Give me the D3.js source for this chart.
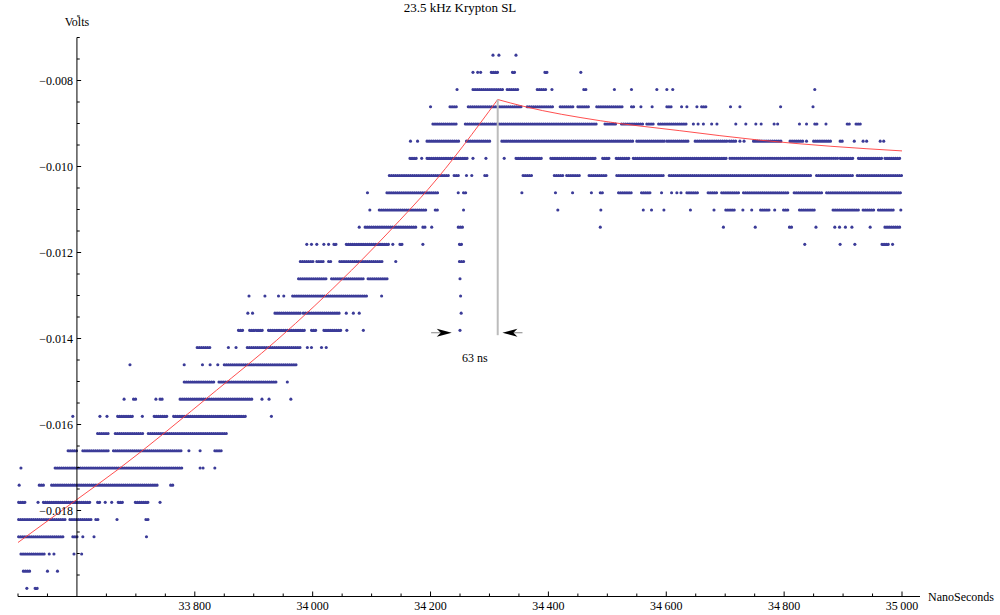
<!DOCTYPE html>
<html>
<head>
<meta charset="utf-8">
<script src="https://cdn.jsdelivr.net/npm/d3@7"></script>
<style>
  body { margin: 0; background: #fff; }
  text { font-family: "Liberation Serif", serif; font-size: 12px; fill: #000; }
</style>
</head>
<body>
<svg id="chart" width="1000" height="615"></svg>
<script>
// sample levels of the scope (volts), top to bottom
const levelVolts = [
  -0.00741, -0.00781, -0.00821, -0.00861, -0.00901, -0.00941, -0.00981, -0.01021,
  -0.01061, -0.01101, -0.01141, -0.01181, -0.01221, -0.01261, -0.01301, -0.01341,
  -0.01381, -0.01421, -0.01461, -0.01501, -0.01541, -0.01581, -0.01621, -0.01661,
  -0.01701, -0.01741, -0.01781, -0.01821, -0.01861, -0.01901, -0.01941, -0.01981
];

// samples on each level, in ns: [t] is a single sample, [t0, t1] a run of consecutive samples
const levelRuns = [
  [[34306],[34316],[34345]],
  [[34272],[34280],[34285],[34303,34315],[34339,34345],[34394,34398],[34455]],
  [[34245],[34272,34325],[34330,34348],[34381,34398],[34406],[34460,34466],[34512],[34541],[34584],[34601],[34611],[34852]],
  [[34200],[34233,34245],[34264,34355],[34364,34410],[34420,34442],[34450,34469],[34482,34527],[34541,34545],[34557],[34576],[34601,34609],[34626],[34635],[34652],[34660,34670],[34709],[34725],[34794],[34849]],
  [[34204,34245],[34259,34484],[34496,34516],[34524,34561],[34567,34581],[34587,34637],[34646],[34654],[34663],[34677],[34686],[34718],[34735],[34752],[34761],[34783],[34789],[34826],[34838],[34852,34859],[34871],[34907,34912],[34922,34930]],
  [[34166],[34178],[34194,34249],[34261,34302],[34321,34544],[34550,34598],[34601,34640],[34649,34703],[34707,34720],[34725],[34732],[34748,34796],[34810,34833],[34838],[34850,34881],[34895,34902],[34919],[34934],[34940],[34963],[34969]],
  [[34165,34177],[34185],[34194,34264],[34272],[34294],[34325],[34345,34391],[34404,34482],[34492,34506],[34515,34539],[34544,34703],[34708,34892],[34895,34917],[34926,34966],[34971,34997]],
  [[34130,34233],[34240,34250],[34261],[34270],[34292,34298],[34357,34372],[34410,34425],[34431,34454],[34469,34498],[34516,34598],[34605,34847],[34855,34917],[34924,35000]],
  [[34093],[34126,34213],[34247],[34256,34260],[34355],[34412],[34441],[34473],[34488,34493],[34519,34544],[34558,34575],[34592],[34609],[34618],[34625],[34635,34656],[34671,34687],[34694,34725],[34731,34809],[34817,34864],[34872,34999]],
  [[34097],[34113,34194],[34208,34215],[34256],[34416],[34489],[34561],[34575],[34596],[34641],[34681],[34701,34717],[34730],[34745],[34760,34776],[34784],[34799,34807],[34826,34852],[34883,34928],[34934,34953],[34960,34988],[34998]],
  [[34079],[34089,34175],[34187,34194],[34202],[34247,34256],[34488],[34697],[34751],[34809,34816],[34854],[34886],[34894],[34904],[34915],[34946],[34971,34999]],
  [[33990],[33998],[34007],[34019],[34027],[34036,34041],[34057,34130],[34136],[34148,34155],[34187],[34249,34256],[34835],[34895],[34920],[34966,34979],[34984]],
  [[33979,34001],[34007,34019],[34027,34032],[34046,34121],[34141],[34249,34257]],
  [[33976,34024],[34032,34089],[34094,34127],[34250]],
  [[33892],[33919],[33942],[33951],[33966,34092],[34117],[34251]],
  [[33890],[33898],[33936,33979],[33984,34046],[34057],[34069],[34079],[34252]],
  [[33874,33882],[33893,33916],[33925,33987],[33998,34007],[34019,34049],[34058],[34086],[34250]],
  [[33804,33827],[33857],[33870],[33889,33981],[33991],[33998],[34015],[34023]],
  [[33690],[33782],[33813],[33826],[33839],[33850,33973]],
  [[33782,33834],[33841,33939],[33957]],
  [[33680],[33696,33701],[33734],[33741,33748],[33775,33899],[33914],[33926],[33963]],
  [[33593],[33639],[33651],[33669,33696],[33711],[33731,33755],[33764,33888],[33930]],
  [[33635,33656],[33665,33713],[33721,33854]],
  [[33585,33602],[33610,33656],[33662,33779],[33790],[33809],[33834,33846]],
  [[33505],[33563,33781],[33809],[33814],[33834]],
  [[33502],[33536,33546],[33557,33738],[33759,33766]],
  [[33501,33512],[33534],[33543,33625],[33635,33642],[33648],[33659],[33670,33679],[33699,33721],[33741]],
  [[33501,33580],[33588,33625],[33632,33639],[33668],[33717,33723]],
  [[33501,33577],[33593,33601],[33610],[33629],[33718]],
  [[33505,33546],[33553],[33561],[33595],[33608]],
  [[33509,33523],[33550],[33567]],
  [[33515],[33529,33534]]
];

// fitted curve
const fitRiseT = [33500, 33600, 33668, 33837, 33939, 34066, 34148, 34196, 34314];
const fitRiseV = [-0.018744, -0.017744, -0.017063, -0.015202, -0.014040, -0.012412, -0.011249, -0.010528, -0.008442];
const fitDecayT = [34314, 34357, 34488, 34623, 34759, 34878, 35000];
const fitDecayV = [-0.008442, -0.008598, -0.008935, -0.009167, -0.009388, -0.009528, -0.009637];

// annotation
const peakT = 34314;
const peakTopV = -0.008442;
const peakBottomV = -0.013923;
const arrowV = -0.013865;
const arrowFrom = [34201, 34356];
const arrowTo = [34236, 34322];
const gapLabel = '63 ns';
const gapLabelT = 34275;
const gapLabelV = -0.014551;

const xTickValues = [33800, 34000, 34200, 34400, 34600, 34800, 35000];
const xTickLabels = ['33\u2009800', '34\u2009000', '34\u2009200', '34\u2009400', '34\u2009600', '34\u2009800', '35\u2009000'];
const yTickValues = [-0.008, -0.010, -0.012, -0.014, -0.016, -0.018];
const yTickLabels = ['\u22120.008', '\u22120.010', '\u22120.012', '\u22120.014', '\u22120.016', '\u22120.018'];

const title = '23.5 kHz Krypton SL';
const xLabel = 'NanoSeconds';
const yLabel = 'Volts';

const svg = d3.select('#chart');

const xScale = d3.scaleLinear().domain([33500, 35000]).range([18, 902]);
const yScale = d3.scaleLinear().domain([-0.020, -0.007]).range([596.5, 37.5]);

const originX = xScale(33600);
const originY = yScale(-0.020);
const dotColor = '#3b3b98';
const r = 1.55;

// samples
const samples = [];
levelRuns.forEach((runs, i) => {
  runs.forEach(run => samples.push({ v: levelVolts[i], t0: run[0], t1: run[run.length - 1] }));
});

const dots = svg.append('g').attr('class', 'dots');
// runs are drawn as a chain of round dots
dots.selectAll('line')
  .data(samples.filter(d => d.t1 > d.t0))
  .join('line')
  .attr('x1', d => xScale(d.t0))
  .attr('x2', d => xScale(d.t1))
  .attr('y1', d => yScale(d.v))
  .attr('y2', d => yScale(d.v))
  .attr('stroke', dotColor)
  .attr('stroke-width', r * 2)
  .attr('stroke-linecap', 'round')
  .attr('stroke-dasharray', '0.01 2.1');

dots.selectAll('circle')
  .data(samples.filter(d => d.t1 === d.t0))
  .join('circle')
  .attr('cx', d => xScale(d.t0))
  .attr('cy', d => yScale(d.v))
  .attr('r', r)
  .attr('fill', dotColor);

// fit
const fitLine = d3.line()
  .x(d => xScale(d[0]))
  .y(d => yScale(d[1]))
  .curve(d3.curveMonotoneX);

svg.append('path')
  .attr('d', fitLine(d3.zip(fitRiseT, fitRiseV)))
  .attr('fill', 'none')
  .attr('stroke', '#ff3b3b')
  .attr('stroke-width', 0.9);

svg.append('path')
  .attr('d', fitLine(d3.zip(fitDecayT, fitDecayV)))
  .attr('fill', 'none')
  .attr('stroke', '#ff3b3b')
  .attr('stroke-width', 0.9);

// annotation: drop line at the peak, arrows and label
svg.append('line')
  .attr('x1', xScale(peakT)).attr('x2', xScale(peakT))
  .attr('y1', yScale(peakTopV)).attr('y2', yScale(peakBottomV))
  .attr('stroke', '#bcbcbc')
  .attr('stroke-width', 2);

arrowFrom.forEach((from, i) => {
  const x0 = xScale(from);
  const x1 = xScale(arrowTo[i]);
  const y = yScale(arrowV);
  const dir = Math.sign(x1 - x0);
  const headLen = 15, headW = 4, notch = 4;
  svg.append('line')
    .attr('x1', x0).attr('x2', x1 - dir * headLen + dir * notch)
    .attr('y1', y).attr('y2', y)
    .attr('stroke', '#999')
    .attr('stroke-width', 1.2);
  const bx = x1 - dir * headLen;
  svg.append('path')
    .attr('d', `M${x1},${y} L${bx},${y - headW} L${bx + dir * notch},${y} L${bx},${y + headW} Z`)
    .attr('fill', '#000');
});

svg.append('text')
  .attr('x', xScale(gapLabelT))
  .attr('y', yScale(gapLabelV))
  .attr('text-anchor', 'middle')
  .text(gapLabel);

// axes
const axes = svg.append('g').attr('class', 'axes');
axes.append('line')
  .attr('x1', 18).attr('x2', 920)
  .attr('y1', originY).attr('y2', originY)
  .attr('stroke', '#000');
axes.append('line')
  .attr('x1', originX).attr('x2', originX)
  .attr('y1', originY).attr('y2', yScale(-0.007))
  .attr('stroke', '#000');

// x ticks
axes.selectAll('.xminor')
  .data(d3.range(33500, 35001, 50).filter(t => t !== 33600 && !xTickValues.includes(t)))
  .join('line')
  .attr('x1', d => xScale(d)).attr('x2', d => xScale(d))
  .attr('y1', originY).attr('y2', originY - 3)
  .attr('stroke', '#000');
axes.selectAll('.xmajor')
  .data(xTickValues)
  .join('line')
  .attr('x1', d => xScale(d)).attr('x2', d => xScale(d))
  .attr('y1', originY).attr('y2', originY - 5)
  .attr('stroke', '#000');
axes.selectAll('.xlabel')
  .data(xTickValues)
  .join('text')
  .attr('x', d => xScale(d))
  .attr('y', originY + 13)
  .attr('text-anchor', 'middle')
  .text((d, i) => xTickLabels[i]);

// y ticks
const yMinor = d3.range(0, 27).map(i => -0.0195 + i * 0.0005)
  .filter(v => !yTickValues.some(t => Math.abs(t - v) < 1e-9));
axes.selectAll('.yminor')
  .data(yMinor)
  .join('line')
  .attr('x1', originX).attr('x2', originX + 2.8)
  .attr('y1', d => yScale(d)).attr('y2', d => yScale(d))
  .attr('stroke', '#000');
axes.selectAll('.ymajor')
  .data(yTickValues)
  .join('line')
  .attr('x1', originX).attr('x2', originX + 4.2)
  .attr('y1', d => yScale(d)).attr('y2', d => yScale(d))
  .attr('stroke', '#000');
axes.selectAll('.ylabel')
  .data(yTickValues)
  .join('text')
  .attr('x', originX - 4)
  .attr('y', d => yScale(d) + 4)
  .attr('text-anchor', 'end')
  .text((d, i) => yTickLabels[i]);

// titles
svg.append('text')
  .attr('x', 460).attr('y', 12)
  .attr('text-anchor', 'middle')
  .style('font-size', '13px')
  .text(title);
svg.append('text')
  .attr('x', originX).attr('y', 26)
  .attr('text-anchor', 'middle')
  .text(yLabel);
svg.append('text')
  .attr('x', 928).attr('y', originY + 4)
  .text(xLabel);
</script>
</body>
</html>
